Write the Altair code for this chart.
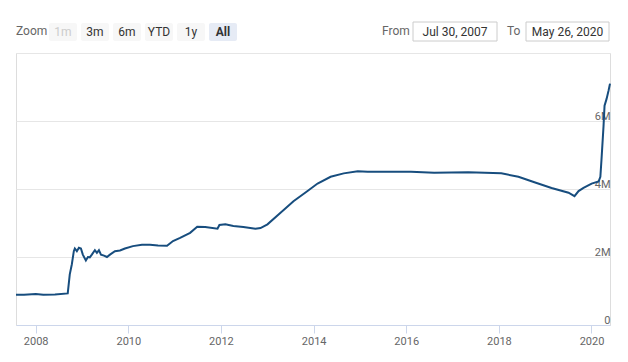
import altair as alt
import pandas as pd

# ---- data (values in millions of $M, shown as "M") ----
dates = [
    "2007-07-30", "2007-10-01", "2008-01-02", "2008-03-01", "2008-06-01",
    "2008-09-10", "2008-09-26", "2008-10-12", "2008-10-28", "2008-11-05",
    "2008-11-21", "2008-12-07", "2008-12-23", "2009-01-07", "2009-01-31",
    "2009-02-16", "2009-03-03", "2009-03-19", "2009-04-12", "2009-04-28",
    "2009-05-14", "2009-05-30", "2009-06-23", "2009-07-16", "2009-08-09",
    "2009-09-17", "2009-10-27", "2009-12-05", "2010-02-06", "2010-04-18",
    "2010-06-21", "2010-08-23", "2010-11-02", "2010-12-19", "2011-02-13",
    "2011-05-03", "2011-06-28", "2011-08-30", "2011-12-05", "2011-12-20",
    "2012-02-05", "2012-04-08", "2012-06-26", "2012-09-29", "2012-11-08",
    "2013-01-02", "2013-04-15", "2013-07-26", "2013-11-14", "2014-02-01",
    "2014-05-15", "2014-08-26", "2014-12-15", "2015-03-03", "2015-07-08",
    "2015-11-20", "2016-02-08", "2016-08-08", "2017-05-04", "2018-01-20",
    "2018-06-04", "2018-10-08", "2019-02-20", "2019-07-04", "2019-08-20",
    "2019-09-21", "2019-10-30", "2020-01-02", "2020-02-26", "2020-03-11",
    "2020-03-20", "2020-04-05", "2020-04-13", "2020-04-29", "2020-05-15",
    "2020-05-26",
]
values_m = [
    0.89, 0.89, 0.91, 0.89, 0.90,
    0.93, 1.49, 1.78, 2.17, 2.25,
    2.17, 2.27, 2.25, 2.07, 1.90,
    2.00, 1.99, 2.07, 2.20, 2.12,
    2.20, 2.07, 2.04, 2.00, 2.07,
    2.17, 2.19, 2.25, 2.32, 2.36,
    2.36, 2.34, 2.33, 2.47, 2.56,
    2.71, 2.89, 2.88, 2.83, 2.94,
    2.96, 2.91, 2.88, 2.83, 2.85,
    2.96, 3.30, 3.64, 3.94, 4.16,
    4.36, 4.46, 4.52, 4.51, 4.51,
    4.51, 4.51, 4.48, 4.49, 4.46,
    4.36, 4.20, 4.03, 3.89, 3.79,
    3.94, 4.03, 4.16, 4.22, 4.36,
    4.87, 5.85, 6.45, 6.65, 6.90,
    7.10,
]
year_ticks = [2008, 2010, 2012, 2014, 2016, 2018, 2020]
y_ticks_m = [0, 2, 4, 6, 8]
zoom_buttons = ["1m", "3m", "6m", "YTD", "1y", "All"]
range_from = "Jul 30, 2007"
range_to = "May 26, 2020"

FONT = "Roboto"
df = pd.DataFrame({"date": dates, "value": [v * 1e6 for v in values_m]})
one = pd.DataFrame({"k": [0]})

W, H = 594, 272

line = alt.Chart(df).mark_line(color="#174d7e", strokeWidth=2).encode(
    x=alt.X(
        "date:T",
        title=None,
        scale=alt.Scale(domain=[alt.DateTime(year=2007, month=7, date=30),
                                alt.DateTime(year=2020, month=5, date=26)]),
        axis=alt.Axis(
            values=[alt.DateTime(year=y, month=1, date=1) for y in year_ticks],
            format="%Y", grid=False, domainColor="#ccd6eb", tickColor="#ccd6eb",
            tickSize=8, labelPadding=2, labelFontSize=11, labelColor="#666666",
            labelFont=FONT,
        ),
    ),
    y=alt.Y(
        "value:Q",
        title=None,
        scale=alt.Scale(domain=[0, 8e6], nice=False),
        axis=alt.Axis(
            orient="right", values=[v * 1e6 for v in y_ticks_m],
            labelExpr="datum.value >= 8000000 ? '' : (datum.value == 0 ? '0' : format(datum.value / 1000000, 'd') + 'M')",
            grid=True, gridColor="#e6e6e6", domain=False, ticks=False, tickSize=0,
            labelAlign="right", labelBaseline="alphabetic", labelPadding=0,
            labelOffset=-2, labelFontSize=11, labelColor="#666666", labelFont=FONT,
        ),
    ),
)

layers = [line]

# toolbar: "Zoom" label
layers.append(alt.Chart(one).mark_text(
    text="Zoom", align="left", baseline="middle", fontSize=12, color="#666666", font=FONT
).encode(x=alt.value(0), y=alt.value(-22)))

# zoom buttons
for i, lab in enumerate(zoom_buttons):
    x0 = 33 + 32 * i
    selected = lab == "All"
    disabled = lab == "1m"
    fill = "#e6ebf5" if selected else "#f7f7f7"
    layers.append(alt.Chart(one).mark_rect(fill=fill, cornerRadius=2).encode(
        x=alt.value(x0), x2=alt.value(x0 + 28), y=alt.value(-30), y2=alt.value(-12)))
    layers.append(alt.Chart(one).mark_text(
        text=lab, align="center", baseline="middle", fontSize=12,
        color="#cccccc" if disabled else "#333333",
        fontWeight="bold" if selected else "normal", font=FONT,
    ).encode(x=alt.value(x0 + 14), y=alt.value(-21)))

# date range inputs
for lab, tx, bx0, bx1, val in [("From", 366, 397, 481, range_from), ("To", 491, 510, 593, range_to)]:
    layers.append(alt.Chart(one).mark_text(
        text=lab, align="left", baseline="middle", fontSize=12, color="#666666", font=FONT
    ).encode(x=alt.value(tx), y=alt.value(-22)))
    layers.append(alt.Chart(one).mark_rect(fill="white", stroke="#cccccc", strokeWidth=1).encode(
        x=alt.value(bx0), x2=alt.value(bx1), y=alt.value(-31), y2=alt.value(-12)))
    layers.append(alt.Chart(one).mark_text(
        text=val, align="center", baseline="middle", fontSize=12, color="#333333", font=FONT
    ).encode(x=alt.value((bx0 + bx1) / 2), y=alt.value(-21.5)))

chart = alt.layer(*layers).properties(
    width=W, height=H,
    padding={"left": 8, "top": 45, "right": 10, "bottom": 26},
    autosize=alt.AutoSizeParams(type="none"),
).configure_view(stroke=None).configure(background="white")

chart.save("out.html", embed_options={"renderer": "svg", "actions": False})
